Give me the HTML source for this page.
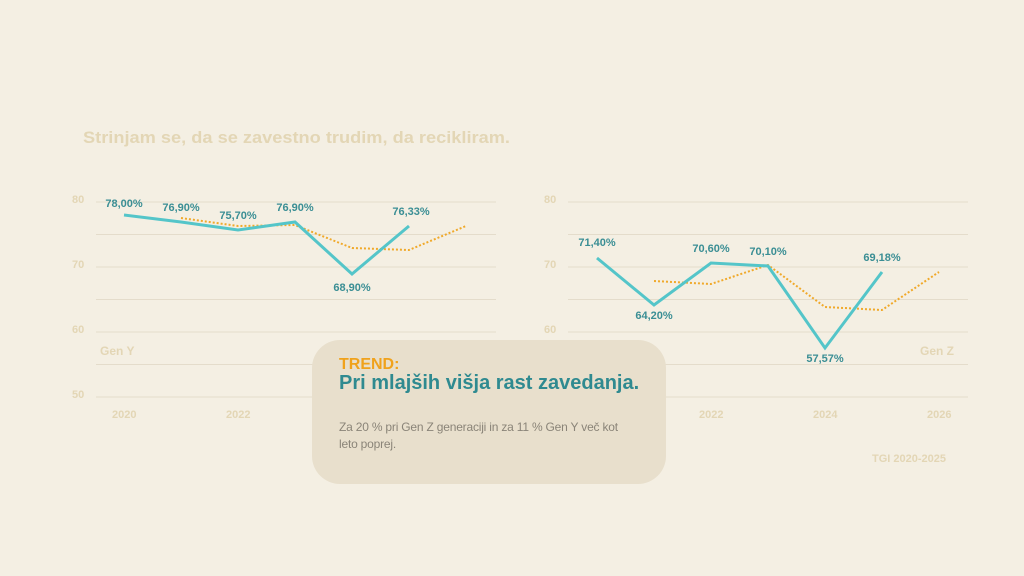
<!DOCTYPE html>
<html><head><meta charset="utf-8"><style>
body{margin:0;width:1024px;height:576px;background:#f4efe3;font-family:"Liberation Sans",sans-serif;overflow:hidden;position:relative}
svg{position:absolute;left:0;top:0}
.box{position:absolute;left:312px;top:340px;width:354px;height:144px;background:#e8dfcc;border-radius:28px}
</style></head><body>
<svg width="1024" height="576" font-family="Liberation Sans, sans-serif">
<text x="83" y="143" font-size="17" font-weight="bold" fill="#e3d6b5" textLength="427" lengthAdjust="spacingAndGlyphs">Strinjam se, da se zavestno trudim, da recikliram.</text>
<g stroke="#e4dccb" stroke-width="1">
<line x1="96" x2="496" y1="202" y2="202"/><line x1="96" x2="496" y1="234.5" y2="234.5"/><line x1="96" x2="496" y1="267" y2="267"/><line x1="96" x2="496" y1="299.5" y2="299.5"/><line x1="96" x2="496" y1="332" y2="332"/><line x1="96" x2="496" y1="364.5" y2="364.5"/><line x1="96" x2="496" y1="397" y2="397"/>
<line x1="568" x2="968" y1="202" y2="202"/><line x1="568" x2="968" y1="234.5" y2="234.5"/><line x1="568" x2="968" y1="267" y2="267"/><line x1="568" x2="968" y1="299.5" y2="299.5"/><line x1="568" x2="968" y1="332" y2="332"/><line x1="568" x2="968" y1="364.5" y2="364.5"/><line x1="568" x2="968" y1="397" y2="397"/>
</g>
<g font-size="11" font-weight="bold" fill="#e3d6b5">
<text x="72" y="203">80</text><text x="72" y="268">70</text><text x="72" y="333">60</text><text x="72" y="398">50</text>
<text x="544" y="203">80</text><text x="544" y="268">70</text><text x="544" y="333">60</text>
<text x="112" y="418">2020</text><text x="226" y="418">2022</text>
<text x="699" y="418">2022</text><text x="813" y="418">2024</text><text x="927" y="418">2026</text>
<text x="100" y="355" font-size="12">Gen Y</text><text x="920" y="355" font-size="12">Gen Z</text>
<text x="872" y="462">TGI 2020-2025</text>
</g>
<polyline fill="none" stroke="#f0a92a" stroke-width="2" stroke-dasharray="2,2" points="181,218 238,226 295,225 352,248 409,250 466,226"/>
<polyline fill="none" stroke="#54c5c9" stroke-width="3" points="124,215 181,222 238,230 295,222 352,274 409,226"/>
<polyline fill="none" stroke="#f0a92a" stroke-width="2" stroke-dasharray="2,2" points="654,281 711,284 768,265 825,307 882,310 939,272"/>
<polyline fill="none" stroke="#54c5c9" stroke-width="3" points="597,258 654,305 711,263 768,266 825,348 882,272"/>
<g font-size="11" font-weight="bold" fill="#3a8e94" text-anchor="middle">
<text x="124" y="207">78,00%</text><text x="181" y="211">76,90%</text><text x="238" y="219">75,70%</text><text x="295" y="211">76,90%</text><text x="352" y="291">68,90%</text><text x="411" y="215">76,33%</text>
<text x="597" y="246">71,40%</text><text x="654" y="319">64,20%</text><text x="711" y="252">70,60%</text><text x="768" y="255">70,10%</text><text x="825" y="362">57,57%</text><text x="882" y="261">69,18%</text>
</g>
</svg>
<div class="box"></div>
<div style="position:absolute;left:339px;top:356px;font-size:16px;font-weight:bold;color:#f0a21c">TREND:</div>
<div style="position:absolute;left:339px;top:372px;font-size:20px;font-weight:bold;color:#2f8a90">Pri mlajših višja rast zavedanja.</div>
<div style="position:absolute;left:339px;top:419px;width:292px;font-size:12px;line-height:17px;color:#8a8478;letter-spacing:-0.2px">Za 20 % pri Gen Z generaciji in za 11 % Gen Y več kot leto poprej.</div>
</body></html>
